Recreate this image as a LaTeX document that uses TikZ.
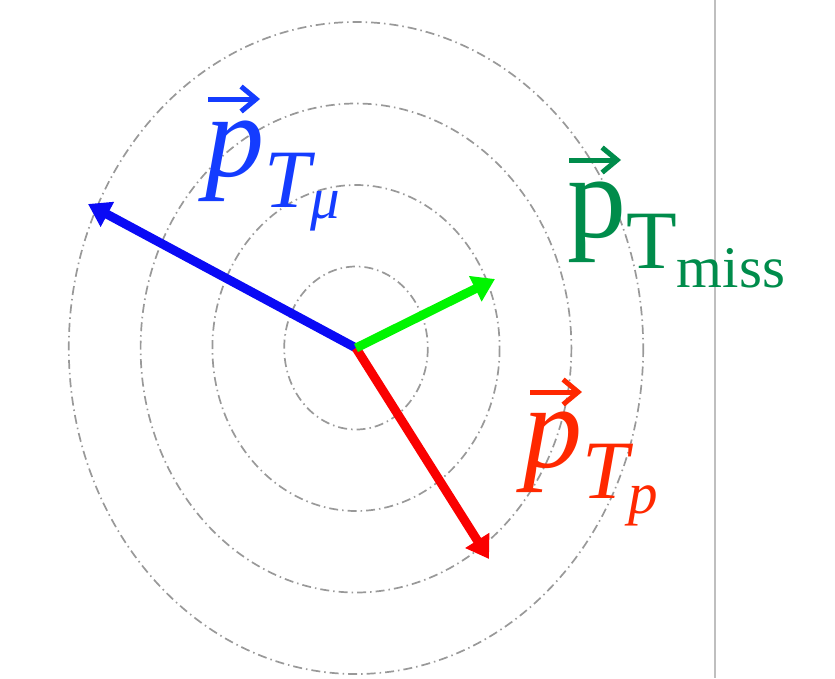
\documentclass[tikz,border=0pt]{standalone}
\usepackage{fontspec}
\setmainfont{Liberation Serif}
\usetikzlibrary{arrows.meta}
\definecolor{mublue}{RGB}{10,10,245}
\definecolor{mutext}{RGB}{20,60,255}
\definecolor{missgreen}{RGB}{0,245,0}
\definecolor{misstext}{RGB}{0,140,75}
\definecolor{pred}{RGB}{250,0,0}
\definecolor{ptext}{RGB}{255,40,0}
\newcommand{\ptsub}[3]{\raisebox{-31pt}{\fontsize{83}{83}\selectfont #1\raisebox{-#3pt}{\fontsize{59}{59}\selectfont #2}}}

\begin{document}
\begin{tikzpicture}[x=1pt, y=-1pt,
  ring/.style={draw=black!40, line width=1.7pt, dash pattern=on 9pt off 4pt on 1.5pt off 4pt},
  vec/.style={line width=9pt, -{Triangle[length=22pt,width=27pt]}},
  accent/.style={line width=5pt, -{Straight Barb[length=15pt,width=25pt]}},
  every node/.style={font=\fontsize{118}{120}\selectfont, inner sep=0pt, anchor=base west}]
\useasboundingbox (0,0) rectangle (835,678);
\coordinate (o) at (356,348);
\foreach \k in {1,...,4} {\draw[ring] (o) ellipse ({71.8*\k} and {81.5*\k});}
\draw[gray!50, line width=1.5pt] (715,0) -- (715,678);
% transverse momenta
\coordinate (mu) at (88,204);
\coordinate (miss) at (495,279);
\coordinate (p) at (489,559);
\draw[vec, mublue] (o) -- (mu);
\draw[vec, pred] (o) -- (p);
\draw[vec, missgreen] (o) -- (miss);
\node[text=mutext] (lmu) at (205,176) {\itshape p\ptsub{T}{μ}{11}};
\node[text=misstext] (lmiss) at (567,237) {p\ptsub{T}{miss}{19}};
\node[text=ptext] (lp) at (523,467) {\itshape p\ptsub{T}{p}{15}};
\draw[accent, mutext] ([shift={(3,-77)}]lmu.base west) -- ++(52,0);
\draw[accent, misstext] ([shift={(2,-77)}]lmiss.base west) -- ++(52,0);
\draw[accent, ptext] ([shift={(7,-75)}]lp.base west) -- ++(52,0);
\end{tikzpicture}
\end{document}
